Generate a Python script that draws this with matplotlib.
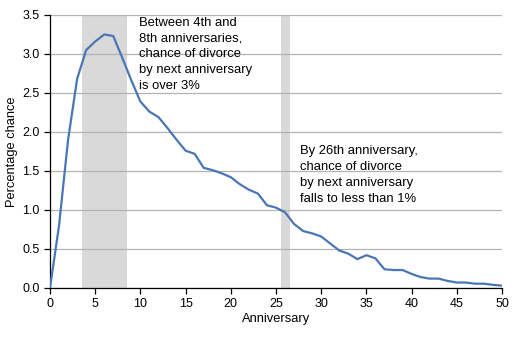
import numpy as np
import matplotlib
matplotlib.use('Agg')
from matplotlib import pyplot as plt

plt.rcParams['font.family'] = ['Liberation Sans', 'DejaVu Sans']

# datos
anniversary = list(range(0, 51))
chance = [0.0, 0.8, 1.9, 2.68, 3.05, 3.16, 3.25, 3.23, 2.95, 2.66,
          2.39, 2.26, 2.19, 2.05, 1.9, 1.76, 1.72, 1.54, 1.51, 1.47,
          1.42, 1.33, 1.26, 1.21, 1.06, 1.03, 0.97, 0.82, 0.73, 0.70,
          0.66, 0.57, 0.48, 0.44, 0.37, 0.42, 0.38, 0.24, 0.23, 0.23,
          0.18, 0.14, 0.12, 0.12, 0.09, 0.07, 0.07, 0.055, 0.055, 0.04,
          0.03]
bands = [(3.5, 8.5), (25.5, 26.5)]
note1 = 'Between 4th and\n8th anniversaries,\nchance of divorce\nby next anniversary\nis over 3%'
note2 = 'By 26th anniversary,\nchance of divorce\nby next anniversary\nfalls to less than 1%'

fig = plt.figure(figsize=(5.17, 3.40), dpi=100)
ax = fig.add_axes([0.0967, 0.153, 0.8743, 0.803])

for a, b in bands:
    ax.axvspan(a, b, color='#d9d9d9', lw=0, zorder=0)

ax.plot(anniversary, chance, color='#4a76b5', lw=1.6, zorder=3)

ax.set_xlim(0, 50)
ax.set_ylim(0, 3.5)
ax.set_xticks(range(0, 51, 5))
ax.set_yticks(np.arange(0, 3.51, 0.5))
ax.yaxis.set_major_formatter(matplotlib.ticker.FormatStrFormatter('%.1f'))
ax.grid(axis='y', color='#b3b3b3', lw=0.9, zorder=1)
ax.set_axisbelow(True)
for s in ['top', 'right']:
    ax.spines[s].set_visible(False)
ax.spines['left'].set_linewidth(0.9)
ax.spines['bottom'].set_linewidth(0.9)
ax.tick_params(labelsize=9, length=4, width=0.9, colors='black')
ax.set_xlabel('Anniversary', fontsize=9.3, labelpad=2)
ax.set_ylabel('Percentage chance', fontsize=9.3, labelpad=3)

ax.text(9.8, 3.48, note1, fontsize=9.4, va='top', ha='left', linespacing=1.42, zorder=4)
ax.text(27.6, 1.83, note2, fontsize=9.4, va='top', ha='left', linespacing=1.42, zorder=4)

plt.savefig('out.png', dpi=100)
